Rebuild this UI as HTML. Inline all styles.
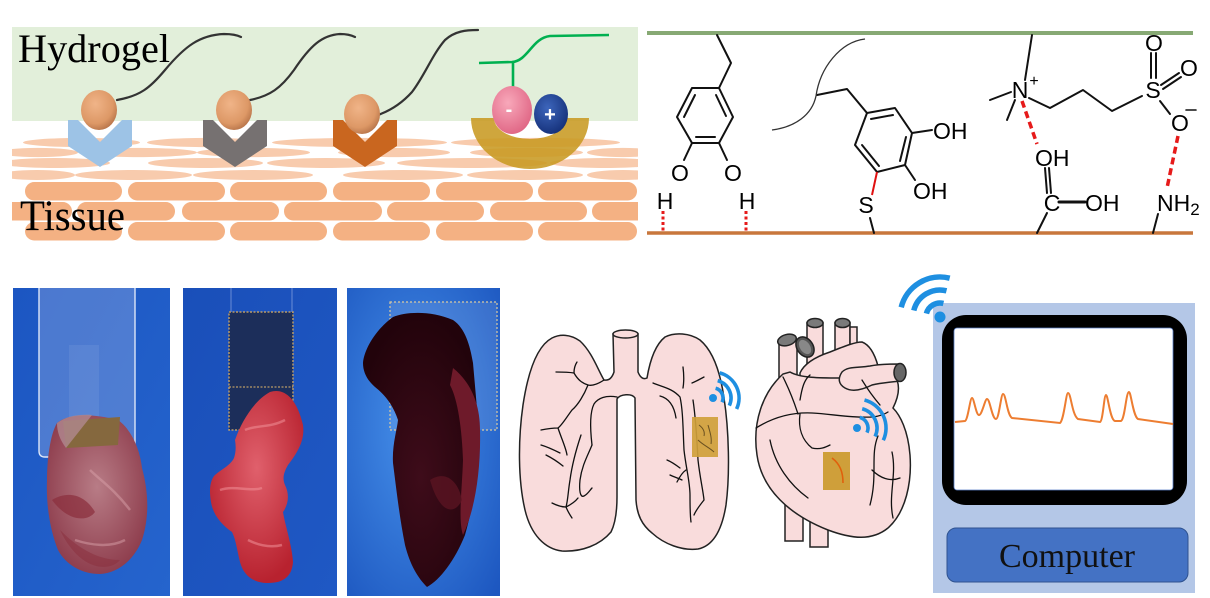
<!DOCTYPE html>
<html><head><meta charset="utf-8"><style>
html,body{margin:0;padding:0;background:#fff;}
svg{display:block;}
</style></head><body>
<svg width="1210" height="598" viewBox="0 0 1210 598" xmlns="http://www.w3.org/2000/svg">
<defs>
<clipPath id="tc"><rect x="12" y="121" width="626" height="125"/></clipPath>
<radialGradient id="ball" cx="0.4" cy="0.35" r="0.7"><stop offset="0" stop-color="#f0b488"/><stop offset="0.7" stop-color="#dd9866"/><stop offset="1" stop-color="#b57248"/></radialGradient>
<radialGradient id="pink" cx="0.4" cy="0.35" r="0.7"><stop offset="0" stop-color="#f8a8ba"/><stop offset="1" stop-color="#df6483"/></radialGradient>
<radialGradient id="blu" cx="0.4" cy="0.35" r="0.7"><stop offset="0" stop-color="#3d66bc"/><stop offset="1" stop-color="#142f78"/></radialGradient>
<linearGradient id="bg1" x1="0" y1="0" x2="1" y2="1"><stop offset="0" stop-color="#1c56c2"/><stop offset="1" stop-color="#2564cd"/></linearGradient>
<linearGradient id="bg2" x1="0" y1="0" x2="1" y2="1"><stop offset="0" stop-color="#1a4fb9"/><stop offset="1" stop-color="#1f58c4"/></linearGradient>
<radialGradient id="bg3" cx="0.45" cy="0.45" r="0.75"><stop offset="0" stop-color="#4690ea"/><stop offset="1" stop-color="#1d57c0"/></radialGradient>
<radialGradient id="t1" cx="0.5" cy="0.45" r="0.6"><stop offset="0" stop-color="#b87c86"/><stop offset="1" stop-color="#8c3a4a"/></radialGradient>
<radialGradient id="t2" cx="0.5" cy="0.4" r="0.6"><stop offset="0" stop-color="#e0606c"/><stop offset="1" stop-color="#b8222f"/></radialGradient>
<radialGradient id="t3" cx="0.5" cy="0.6" r="0.6"><stop offset="0" stop-color="#3e0c1a"/><stop offset="1" stop-color="#22030b"/></radialGradient>
</defs>

<!-- ============ TOP LEFT: hydrogel / tissue ============ -->
<rect x="12" y="27" width="626" height="94" fill="#e2efda"/>
<g clip-path="url(#tc)" fill="#f8cbad">
  <ellipse cx="81.5" cy="142.5" rx="58.5" ry="4.6"/><ellipse cx="207" cy="142.5" rx="60" ry="4.6"/><ellipse cx="359.5" cy="142.5" rx="87.5" ry="4.6"/><ellipse cx="535.5" cy="142.5" rx="84.5" ry="4.6"/>
  <ellipse cx="38" cy="152.5" rx="40" ry="4.6"/><ellipse cx="138.5" cy="152.5" rx="58.5" ry="4.6"/><ellipse cx="253.5" cy="152.5" rx="56.5" ry="4.6"/><ellipse cx="394" cy="152.5" rx="56" ry="4.6"/><ellipse cx="526.5" cy="152.5" rx="56.5" ry="4.6"/><ellipse cx="623" cy="152.5" rx="36" ry="4.6"/>
  <ellipse cx="55" cy="163" rx="55" ry="5"/><ellipse cx="205.5" cy="163" rx="57.5" ry="5"/><ellipse cx="326" cy="163" rx="59" ry="5"/><ellipse cx="472" cy="163" rx="75" ry="5"/><ellipse cx="605" cy="163" rx="55" ry="5"/>
  <ellipse cx="37" cy="175" rx="38" ry="5"/><ellipse cx="133.5" cy="175" rx="58.5" ry="5"/><ellipse cx="253" cy="175" rx="60" ry="5"/><ellipse cx="403" cy="175" rx="60" ry="5"/><ellipse cx="525" cy="175" rx="58" ry="5"/><ellipse cx="623" cy="175" rx="36" ry="5"/>
</g>
<g clip-path="url(#tc)" fill="#f4b183">
  <rect x="25" y="182" width="97" height="18.5" rx="9.2"/><rect x="128" y="182" width="97" height="18.5" rx="9.2"/><rect x="230" y="182" width="97" height="18.5" rx="9.2"/><rect x="333" y="182" width="97" height="18.5" rx="9.2"/><rect x="436" y="182" width="97" height="18.5" rx="9.2"/><rect x="538" y="182" width="99" height="18.5" rx="9.2"/>
  <rect x="-26" y="202" width="98" height="18.5" rx="9.2"/><rect x="77" y="202" width="98" height="18.5" rx="9.2"/><rect x="182" y="202" width="97" height="18.5" rx="9.2"/><rect x="284" y="202" width="98" height="18.5" rx="9.2"/><rect x="387" y="202" width="97" height="18.5" rx="9.2"/><rect x="490" y="202" width="97" height="18.5" rx="9.2"/><rect x="592" y="202" width="97" height="18.5" rx="9.2"/>
  <rect x="25" y="222" width="97" height="18.5" rx="9.2"/><rect x="128" y="222" width="97" height="18.5" rx="9.2"/><rect x="230" y="222" width="97" height="18.5" rx="9.2"/><rect x="333" y="222" width="97" height="18.5" rx="9.2"/><rect x="436" y="222" width="97" height="18.5" rx="9.2"/><rect x="538" y="222" width="99" height="18.5" rx="9.2"/>
</g>
<!-- chevrons -->
<polygon points="68,120 78,120 100,142 122,120 132,120 132,146 100,167 68,146" fill="#9dc3e6"/>
<polygon points="203,120 213,120 235,142 257,120 267,120 267,146 235,167 203,146" fill="#767171"/>
<polygon points="333,120 343,120 365,142 387,120 397,120 397,146 365,167 333,146" fill="#c9661f"/>
<!-- gold semicircle -->
<path d="M471,118 A59,51 0 0 0 589,118 L566,118 A36,21 0 0 1 494,118 Z" fill="#c89a22" fill-opacity="0.88"/>
<!-- polymer chains -->
<g fill="none" stroke="#333" stroke-width="2.2" stroke-linecap="round">
  <path d="M117,100 C140,96 150,88 165,70 C185,46 200,35 224,34 C232,34 237,35 241,37"/>
  <path d="M250,100 C270,96 281,88 294,70 C310,46 322,35 340,34 C346,34 351,35 355,37"/>
  <path d="M378,115 C392,110 403,102 412,92 C425,75 432,55 445,40 C455,31 466,30 478,30"/>
</g>
<ellipse cx="99" cy="110" rx="18" ry="20" fill="url(#ball)"/>
<ellipse cx="234" cy="110" rx="18" ry="20" fill="url(#ball)"/>
<ellipse cx="362" cy="114" rx="18" ry="20" fill="url(#ball)"/>
<!-- zwitterion -->
<path d="M479,63 L512,62 C528,61 532,38 550,36 L609,35" fill="none" stroke="#00b050" stroke-width="2.6"/>
<line x1="513" y1="63" x2="513" y2="88" stroke="#00b050" stroke-width="2.6"/>
<ellipse cx="551" cy="114" rx="17" ry="20" fill="url(#blu)"/>
<ellipse cx="512" cy="110" rx="20" ry="24" fill="url(#pink)"/>
<text x="509" y="116" font-family="Liberation Sans, sans-serif" font-size="20" fill="#fff" text-anchor="middle" font-weight="bold">-</text>
<text x="550" y="121" font-family="Liberation Sans, sans-serif" font-size="20" fill="#fff" text-anchor="middle" font-weight="bold">+</text>
<text x="18" y="62" font-family="Liberation Serif, serif" font-size="40" fill="#000" textLength="152" lengthAdjust="spacingAndGlyphs">Hydrogel</text>
<text x="20" y="230" font-family="Liberation Serif, serif" font-size="43" fill="#000" textLength="105" lengthAdjust="spacingAndGlyphs">Tissue</text>

<!-- ============ TOP RIGHT: chemistry ============ -->
<line x1="647" y1="33" x2="1193" y2="33" stroke="#87a974" stroke-width="4"/>
<line x1="647" y1="233" x2="1193" y2="233" stroke="#c8773c" stroke-width="3.5"/>
<g fill="none" stroke="#111" stroke-width="2" stroke-linejoin="round" stroke-linecap="round">
  <polyline points="717,35 731,63 719,88"/>
  <polygon points="692,88 719,88 733,117 719,143 692,143 677,117"/>
  <line x1="695" y1="95" x2="684" y2="117"/>
  <line x1="716" y1="95" x2="726" y2="116"/>
  <line x1="696" y1="137" x2="715" y2="137"/>
  <line x1="692" y1="143" x2="684" y2="160"/>
  <line x1="719" y1="143" x2="727" y2="160"/>
  <polyline points="817,95 847,89 867,113"/>
  <polygon points="867,113 895,108 912,133 905,165 877,172 855,145"/>
  <line x1="871" y1="119" x2="893" y2="115"/>
  <line x1="906" y1="137" x2="900" y2="161"/>
  <line x1="862" y1="145" x2="879" y2="166"/>
  <line x1="912" y1="133" x2="932" y2="130"/>
  <line x1="905" y1="165" x2="915" y2="180"/>
  <line x1="870" y1="218" x2="874" y2="233"/>
  <line x1="1032" y1="35" x2="1025" y2="80"/>
  <line x1="990" y1="100" x2="1011" y2="92"/>
  <line x1="1007" y1="120" x2="1015" y2="100"/>
  <polyline points="1029,98 1050,108 1083,90 1112,111 1142,96"/>
  <line x1="1151" y1="53" x2="1151" y2="78"/>
  <line x1="1156" y1="53" x2="1156" y2="78"/>
  <line x1="1161" y1="85" x2="1179" y2="73"/>
  <line x1="1163" y1="89" x2="1181" y2="77"/>
  <line x1="1160" y1="101" x2="1170" y2="114"/>
  <line x1="1158" y1="214" x2="1153" y2="233"/>
  <line x1="1045" y1="168" x2="1047" y2="193"/>
  <line x1="1049" y1="168" x2="1051" y2="193"/>
  <line x1="1059" y1="202" x2="1085" y2="202" stroke-width="3"/>
  <line x1="1047" y1="213" x2="1037" y2="233"/>
  <line x1="1186" y1="110" x2="1196" y2="110" stroke-width="1.6"/>
</g>
<path d="M772,130 C795,127 812,115 816,96 C820,68 840,42 865,39" fill="none" stroke="#333" stroke-width="1.3"/>
<line x1="877" y1="172" x2="872" y2="195" stroke="#e01010" stroke-width="2"/>
<g stroke="#e61a1a" fill="none">
  <line x1="663" y1="211" x2="663" y2="232" stroke-width="3" stroke-dasharray="3,2.5"/>
  <line x1="746" y1="211" x2="746" y2="232" stroke-width="3" stroke-dasharray="3,2.5"/>
  <line x1="1022" y1="101" x2="1037" y2="144" stroke-width="3.5" stroke-dasharray="7,4"/>
  <line x1="1178" y1="136" x2="1167" y2="188" stroke-width="3.5" stroke-dasharray="7,4"/>
</g>
<g font-family="Liberation Sans, Arial, sans-serif" font-size="23" fill="#000">
  <text x="680" y="181" text-anchor="middle">O</text>
  <text x="733" y="181" text-anchor="middle">O</text>
  <text x="665" y="209" text-anchor="middle">H</text>
  <text x="747" y="209" text-anchor="middle">H</text>
  <text x="933" y="139">OH</text>
  <text x="913" y="199">OH</text>
  <text x="866" y="213" text-anchor="middle">S</text>
  <text x="1020" y="98" text-anchor="middle">N</text>
  <text x="1034" y="86" text-anchor="middle" font-size="16">+</text>
  <text x="1153" y="98" text-anchor="middle">S</text>
  <text x="1154" y="51" text-anchor="middle">O</text>
  <text x="1189" y="76" text-anchor="middle">O</text>
  <text x="1180" y="131" text-anchor="middle">O</text>
  <text x="1157" y="211">NH<tspan font-size="17" dy="4">2</tspan></text>
  <text x="1035" y="166">OH</text>
  <text x="1052" y="211" text-anchor="middle">C</text>
  <text x="1085" y="211">OH</text>
</g>

<!-- ============ PHOTOS ============ -->
<rect x="13" y="288" width="157" height="308" fill="url(#bg1)"/>
<path d="M39,288 L39,451 Q39,457 45,457 L129,457 Q135,457 135,451 L135,288" fill="#b8c6ea" fill-opacity="0.3" stroke="#dde6f8" stroke-width="1.4"/>
<rect x="69" y="345" width="30" height="108" fill="#fff" opacity="0.07"/>
<path d="M57,423 C68,414 90,413 118,420 C132,430 140,450 142,468 C148,490 150,515 142,540 C134,560 118,573 100,574 C82,574 66,565 58,550 C50,530 46,505 47,480 C47,460 50,435 57,423 Z" fill="url(#t1)"/>
<path d="M52,500 C68,490 85,495 95,512 C88,522 68,522 52,500 Z" fill="#8a2e3c" opacity="0.7"/>
<path d="M60,530 C75,545 95,560 120,560 C110,572 80,572 60,530 Z" fill="#8a2e3c" opacity="0.5"/>
<path d="M90,470 C100,480 115,490 130,510 M75,540 C90,545 110,548 125,540" stroke="#d8a0a8" stroke-width="2.5" fill="none" opacity="0.5"/>
<path d="M63,421 L120,417 L118,445 L66,448 Z" fill="#85683e"/>
<path d="M57,423 C66,416 80,414 92,415 L66,448 C60,440 57,432 57,423 Z" fill="#b08890" opacity="0.8"/>
<rect x="183" y="288" width="154" height="308" fill="url(#bg2)"/>
<line x1="231" y1="288" x2="231" y2="312" stroke="#9fb4e8" stroke-width="1" opacity="0.6"/>
<line x1="292" y1="288" x2="292" y2="312" stroke="#9fb4e8" stroke-width="1" opacity="0.6"/>
<rect x="229" y="312" width="64" height="118" fill="#1c2e5a" stroke="#b89a68" stroke-width="1.5" stroke-dasharray="2,1.5"/>
<line x1="229" y1="387" x2="293" y2="387" stroke="#b89a68" stroke-width="1.2" stroke-dasharray="2,1.5"/>
<path d="M235,440 C242,420 255,400 270,392 C282,388 296,395 303,425 C305,440 298,452 288,465 C284,472 282,478 285,485 C290,495 288,505 283,512 C285,525 292,545 293,562 C292,576 284,583 268,583 C252,583 243,574 240,562 C237,550 236,540 232,532 C222,525 213,515 211,502 C209,490 210,482 214,476 C220,470 230,466 234,458 C236,452 236,446 235,440 Z" fill="url(#t2)"/>
<path d="M220,490 C235,485 250,492 262,488 M245,430 C255,425 270,428 285,420 M248,540 C258,545 270,548 282,545" stroke="#f09098" stroke-width="2.5" fill="none" opacity="0.55"/>
<rect x="347" y="288" width="153" height="308" fill="url(#bg3)"/>
<rect x="390" y="302" width="107" height="128" fill="#fff" fill-opacity="0.1" stroke="#d9c9a0" stroke-width="1.2" stroke-dasharray="2,2"/>
<path d="M363,363 C364,350 375,330 393,317 C405,312 430,310 453,320 C465,328 470,345 473,363 L478,420 C480,460 475,500 465,535 C455,560 440,580 427,587 C418,578 410,565 405,545 C400,520 397,495 393,463 C392,445 397,430 398,420 C393,405 385,395 375,387 C367,380 363,372 363,363 Z" fill="url(#t3)"/>
<path d="M453,368 C468,380 480,400 480,430 C481,470 475,510 463,535 C458,520 462,490 463,460 C462,430 458,400 450,385 Z" fill="#6e1a2a"/>
<path d="M430,480 C445,470 458,480 462,500 C455,515 440,515 430,480 Z" fill="#5a1422" opacity="0.8"/>

<!-- ============ LUNGS ============ -->
<path d="M613,334 L614,372 C612,378 609,381 604,380 C598,370 592,352 580,341 C570,334 560,334 552,338 C537,346 528,372 523,405 C518,440 518,480 525,510 C531,535 545,549 562,551 C582,552 600,545 611,532 C616,522 617,510 617,497 L617,399 C620,394 632,393 635,398 L636,500 C637,515 642,525 652,533 C664,544 682,551 698,549 C713,546 722,530 726,505 C730,475 729,430 724,398 C720,370 712,350 700,340 C690,333 675,332 665,337 C655,345 650,360 647,378 C643,380 640,377 638,372 L638,334 Z" fill="#f9dcdc" stroke="#222" stroke-width="1.5"/>
<ellipse cx="625.5" cy="334" rx="12.5" ry="4" fill="#f9dcdc" stroke="#222" stroke-width="1.5"/>
<g fill="none" stroke="#111" stroke-width="1.3" stroke-linecap="round">
  <path d="M604,380 C598,384 592,386 588,385 C582,383 578,380 574,373 C568,372 562,372 556,372"/>
  <path d="M574,373 C574,368 575,365 577,362"/>
  <path d="M617,397 C606,395 598,398 594,404 C590,412 590,428 592,445"/>
  <path d="M588,385 C584,395 578,405 572,410 C566,418 562,425 558,428 C552,428 546,429 541,430"/>
  <path d="M558,428 C562,440 566,448 567,455"/>
  <path d="M581,435 C576,450 572,465 570,480 C568,492 568,500 566,507 C562,507 556,505 552,503"/>
  <path d="M566,507 C570,505 575,502 578,498 M566,507 C568,512 570,515 572,518"/>
  <path d="M592,445 C588,455 582,465 580,480 C579,490 580,498 584,496 C588,494 590,490 592,488"/>
  <path d="M541,445 C548,447 554,450 560,453 M546,455 C552,458 558,462 563,466"/>
  <path d="M653,383 C662,387 672,388 680,397 C683,410 683,430 684,450 C686,468 690,482 690,495 C690,505 690,515 691,522"/>
  <path d="M660,396 C668,398 674,405 676,418"/>
  <path d="M693,400 C696,420 697,440 698,460 C700,478 703,490 704,500 C700,505 696,510 694,515"/>
  <path d="M683,367 C684,375 684,382 683,388 M692,383 C697,381 700,379 704,377"/>
  <path d="M667,460 C672,462 676,465 680,468 M670,475 C674,477 678,478 682,480 M677,482 C680,476 683,472 686,470"/>
</g>
<rect x="692" y="417" width="26" height="40" fill="#cf9f3a" fill-opacity="0.92"/>
<path d="M699,425 C703,428 705,432 704,436 M698,440 C703,445 710,448 714,452 M708,425 C710,432 712,438 711,444" stroke="#6a5020" stroke-width="1" fill="none"/>

<!-- ============ HEART ============ -->
<g stroke="#222" stroke-width="1.5">
  <rect x="785" y="495" width="18" height="46" fill="#f9dcdc"/>
  <rect x="810" y="495" width="18" height="52" fill="#f9dcdc"/>
  <rect x="779" y="340" width="18" height="60" fill="#f9dcdc"/>
  <rect x="807" y="323" width="16" height="60" fill="#f9dcdc"/>
  <rect x="835" y="323" width="15" height="40" fill="#f9dcdc"/>
  <rect x="850" y="327" width="7" height="30" fill="#f9dcdc"/>
  <path d="M800,373 C804,364 815,357 830,352 C845,346 855,342 862,342 C870,345 875,355 878,366 L879,395 L800,400 Z" fill="#f9dcdc"/>
  <path d="M783,374 C763,392 752,422 757,455 C762,490 790,515 828,530 C852,539 872,541 888,528 C906,512 912,482 910,455 C908,430 900,415 893,408 C898,398 900,388 897,380 L880,380 C878,372 872,372 866,374 L840,378 C820,378 800,378 790,372 Z" fill="#f9dcdc"/>
  <path d="M842,372 C848,366 858,368 870,366 C880,364 890,364 899,364 L901,381 C890,382 880,383 872,385 C862,390 852,392 845,388 C838,384 838,378 842,372 Z" fill="#f9dcdc"/>
  <ellipse cx="787" cy="340" rx="9.5" ry="5.5" fill="#7a7a7a" transform="rotate(-15 787 340)"/>
  <ellipse cx="805" cy="347" rx="8" ry="11" fill="#555" transform="rotate(-35 805 347)"/>
  <ellipse cx="805" cy="347" rx="5" ry="8" fill="#888" stroke="none" transform="rotate(-35 805 347)"/>
  <ellipse cx="815" cy="323" rx="8" ry="4.5" fill="#7a7a7a"/>
  <ellipse cx="842.5" cy="323" rx="7.5" ry="4.5" fill="#7a7a7a"/>
  <ellipse cx="900" cy="372.5" rx="6" ry="9" fill="#666"/>
</g>
<g fill="none" stroke="#111" stroke-width="1.3" stroke-linecap="round">
  <path d="M756,428 C772,418 790,412 812,413 C832,414 850,418 873,417 C880,416 885,414 888,412"/>
  <path d="M800,400 C802,388 804,380 810,375"/>
  <path d="M783,377 C792,395 795,405 798,414"/>
  <path d="M800,414 C798,428 802,440 812,448 C820,450 826,447 830,445"/>
  <path d="M770,440 C775,465 790,485 808,498"/>
  <path d="M878,436 C870,455 878,475 870,505"/>
  <path d="M892,452 C897,475 888,495 893,518"/>
  <path d="M872,470 C880,478 890,482 900,478"/>
  <path d="M862,380 C868,390 874,398 880,405"/>
</g>
<rect x="823" y="452" width="27" height="38" fill="#cf9f3a"/>
<path d="M832,458 C840,464 843,472 843,483" stroke="#e0600c" stroke-width="1.6" fill="none"/>

<g fill="none" stroke="#1e8fe1" stroke-width="3.6" stroke-linecap="butt">
  <path d="M715.6,388.3 A10,10 0 0 1 722.1,402.2"/>
  <path d="M717.7,380.6 A18,18 0 0 1 729.3,405.6"/>
  <path d="M719.7,372.9 A26,26 0 0 1 736.6,409.0"/>
  <path d="M859.8,417.4 A11,11 0 0 1 867.0,432.6"/>
  <path d="M862.2,408.7 A20,20 0 0 1 875.1,436.5"/>
  <path d="M864.5,400.0 A29,29 0 0 1 883.3,440.3"/>
</g>
<circle cx="713" cy="398" r="4" fill="#1e8fe1"/>
<circle cx="857" cy="428" r="4" fill="#1e8fe1"/>

<!-- ============ COMPUTER ============ -->
<rect x="933" y="303" width="262" height="290" fill="#b4c7e7"/>
<rect x="942" y="315" width="245" height="190" rx="24" fill="#000"/>
<rect x="954" y="328" width="219" height="162" rx="3" fill="#fff" stroke="#5a7fc8" stroke-width="0.8"/>
<path d="M955,422 L965,421 C968,420 970,398 972,398 C974,398 976,415 979,415 C982,415 985,399 987,399 C990,399 992,419 996,419 C999,419 1001,394 1003,394 C1006,394 1007,415 1012,418 L1060,423 C1064,420 1066,393 1068,393 C1071,393 1072,415 1078,419 L1100,422 C1103,421 1104,395 1106,395 C1108,395 1110,420 1115,421 L1121,421 C1125,419 1126,392 1129,392 C1131,392 1133,416 1138,419 L1173,424" fill="none" stroke="#ed7d31" stroke-width="2"/>
<rect x="947" y="528" width="241" height="54" rx="9" fill="#4472c4" stroke="#2f528f" stroke-width="1"/>
<text x="1067" y="567" text-anchor="middle" font-family="Liberation Serif, serif" font-size="34" fill="#111">Computer</text>
<g fill="none" stroke="#1e8fe1" stroke-width="5.5">
  <path d="M926.4,313.6 A14,14 0 0 1 943.4,303.4"/>
  <path d="M913.8,310.5 A27,27 0 0 1 946.5,290.8"/>
  <path d="M901.2,307.3 A40,40 0 0 1 949.7,278.2"/>
</g>
<circle cx="940" cy="317" r="5.5" fill="#1e8fe1"/>
</svg>
</body></html>
